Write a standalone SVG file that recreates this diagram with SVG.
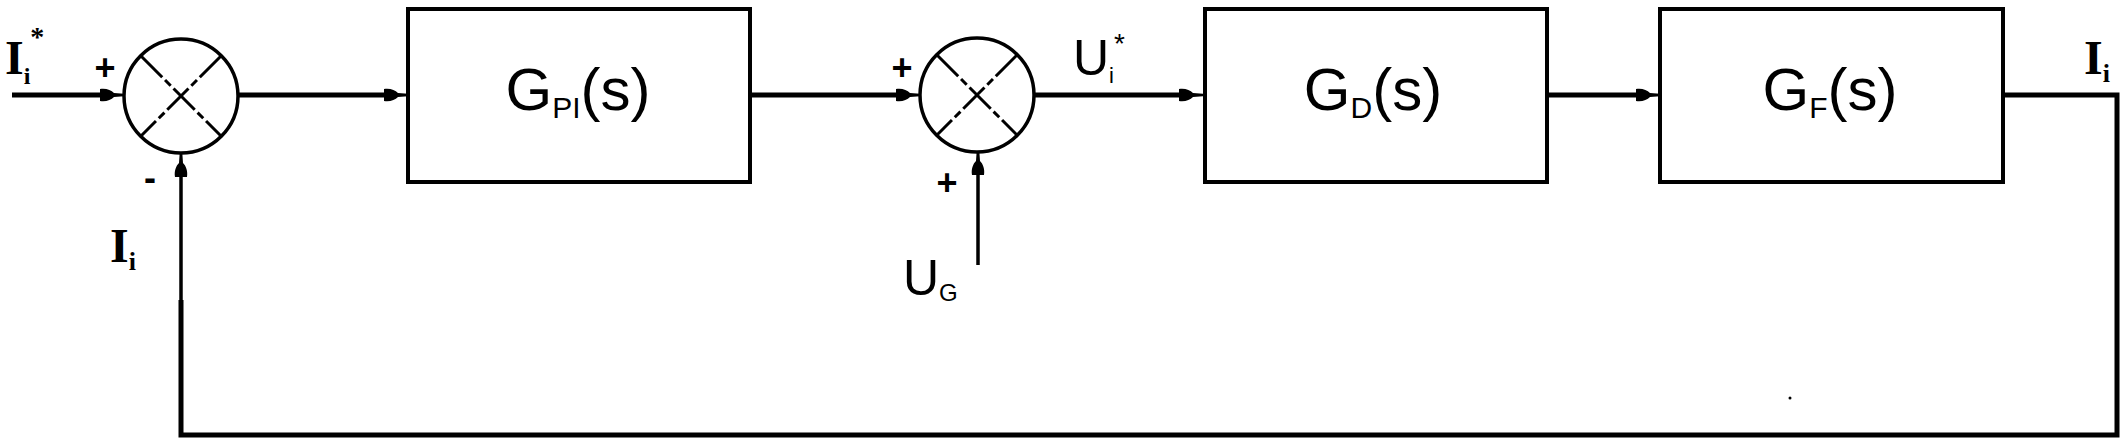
<svg xmlns="http://www.w3.org/2000/svg" width="2128" height="445" viewBox="0 0 2128 445">
<style>
.box{fill:#fff;stroke:#000;stroke-width:4}
.sum{fill:#fff;stroke:#000;stroke-width:3.5}
.cross{stroke:#000;stroke-width:3;stroke-dasharray:30 4 8 4;fill:none}
.wire{fill:none;stroke:#000;stroke-width:5;stroke-linejoin:miter}
.thin{fill:none;stroke:#000;stroke-width:3.5}
.lbl{font-family:"Liberation Sans",Arial,sans-serif;font-size:60px;fill:#000}
.sub{font-size:30px}
.sig{font-family:"Liberation Sans",Arial,sans-serif;font-size:50px;fill:#000}
.isig{font-family:"Liberation Serif","Times New Roman",serif;font-weight:bold;font-size:48px;fill:#000}
.sign{font-family:"Liberation Sans",Arial,sans-serif;font-weight:bold;font-size:36px;fill:#000}
</style>
<defs>
<marker id="arr" markerUnits="userSpaceOnUse" markerWidth="30" markerHeight="20" viewBox="0 -10 30 20" refX="0" refY="0" orient="auto" overflow="visible">
<path d="M0,-6 C6,-7 11,-5 14,-2 L24,-1.3 L24,1.3 L14,2 C11,5 6,7 0,6 Z" fill="#000"/>
</marker>
</defs>
<g id="connectors">
<path class="wire" d="M12,95 H100" marker-end="url(#arr)"/>
<path class="wire" d="M238,95 H384" marker-end="url(#arr)"/>
<path class="wire" d="M750,95 H896" marker-end="url(#arr)"/>
<path class="wire" d="M1034,95 H1179" marker-end="url(#arr)"/>
<path class="wire" d="M1547,95 H1636" marker-end="url(#arr)"/>
<path class="wire" d="M2003,95 H2117 V435 H181 V300"/>
<path class="thin" d="M181,302 V177" marker-end="url(#arr)"/>
<path class="thin" d="M978,265 V175" marker-end="url(#arr)"/>
</g>
<g id="sum1">
<circle class="sum" cx="181" cy="96" r="57"/>
<path class="cross" d="M141,56 L221,136 M221,56 L141,136"/>
<text class="sign" x="105" y="80" text-anchor="middle">+</text>
<text class="sign" x="150" y="190" text-anchor="middle">-</text>
</g>
<g id="sum2">
<circle class="sum" cx="977" cy="95" r="57"/>
<path class="cross" d="M937,55 L1017,135 M1017,55 L937,135"/>
<text class="sign" x="902" y="80" text-anchor="middle">+</text>
<text class="sign" x="947" y="195" text-anchor="middle">+</text>
</g>
<g id="box_pi">
<rect class="box" x="408" y="9" width="342" height="173"/>
<text class="lbl" x="578" y="110" text-anchor="middle">G<tspan class="sub" dy="8">PI</tspan><tspan dy="-8">(s)</tspan></text>
</g>
<g id="box_d">
<rect class="box" x="1205" y="9" width="342" height="173"/>
<text class="lbl" x="1373" y="110" text-anchor="middle">G<tspan class="sub" dy="8">D</tspan><tspan dy="-8">(s)</tspan></text>
</g>
<g id="box_f">
<rect class="box" x="1660" y="9" width="343" height="173"/>
<text class="lbl" x="1830" y="110" text-anchor="middle">G<tspan class="sub" dy="8">F</tspan><tspan dy="-8">(s)</tspan></text>
</g>
<g id="labels">
<text class="isig" x="5" y="74" font-size="42">I<tspan font-size="24" dy="10">i</tspan><tspan font-size="28" dy="-38">*</tspan></text>
<text class="isig" x="110" y="262">I<tspan font-size="26" dy="8">i</tspan></text>
<text class="isig" x="2084" y="74">I<tspan font-size="26" dy="8">i</tspan></text>
<text class="sig" x="1073" y="75">U<tspan font-size="22" dy="8">i</tspan><tspan font-size="28" dy="-30">*</tspan></text>
<text class="sig" x="903" y="295">U<tspan font-size="24" dy="6">G</tspan></text>
<circle cx="1790" cy="398" r="1.5" fill="#000"/>
</g>
</svg>
